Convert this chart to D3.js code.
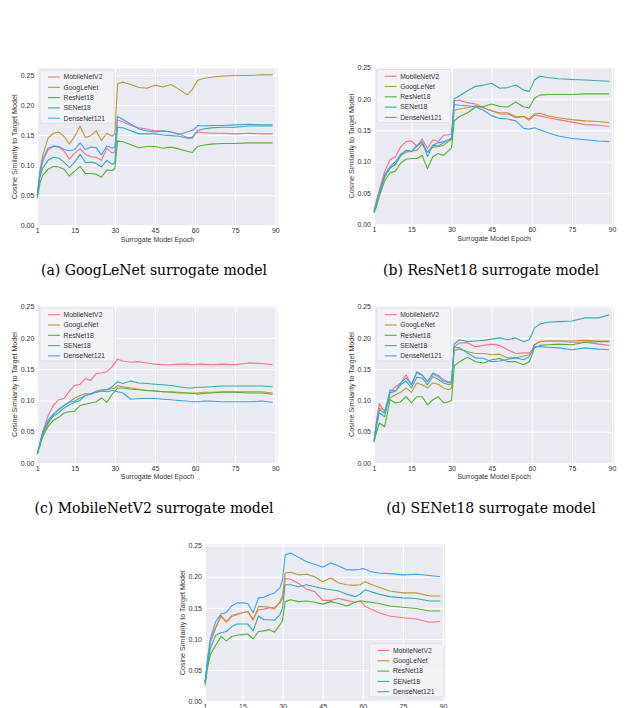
<!DOCTYPE html>
<html>
<head>
<meta charset="utf-8">
<script src="https://cdn.jsdelivr.net/npm/d3@7"></script>
<style>
    body { margin: 0; background: #fff; }
    svg { display: block; }
</style>
</head>
<body>
<svg id="fig" width="630" height="708"></svg>
<script>
const epochs = [1, 2, 3, 5, 7, 9, 11, 13, 15, 17, 19, 21, 23, 25, 27, 29, 30, 31, 33, 36, 39, 42, 45, 48, 51, 54, 57, 59, 60, 61, 63, 66, 70, 75, 80, 85, 89];
const models = ["MobileNetV2", "GoogLeNet", "ResNet18", "SENet18", "DenseNet121"];
const colors = ["#f77189", "#bb9832", "#50b131", "#36ada4", "#3ba3ec"];
const xTicks = [1, 15, 30, 45, 60, 75, 90];
const yTicks = [0, 0.05, 0.10, 0.15, 0.20, 0.25];

// (a) GoogLeNet surrogate
const valuesGoogLeNet = [
    [0.05,0.085,0.105, 0.125,0.131,0.13, 0.123,0.11,0.12, 0.127,0.118,0.114, 0.113,0.108,0.128, 0.12,0.122,0.175, 0.172,0.166,0.162, 0.16,0.157,0.157, 0.155,0.152,0.146, 0.146,0.153,0.155, 0.154,0.153,0.153, 0.152,0.153,0.152, 0.152],
    [0.048,0.09,0.115, 0.145,0.153,0.155, 0.148,0.135,0.148, 0.165,0.146,0.149, 0.157,0.141,0.153, 0.148,0.152,0.235, 0.238,0.234,0.229, 0.228,0.233,0.230, 0.234,0.226,0.217, 0.226,0.234,0.241, 0.244,0.246,0.248, 0.249,0.249,0.250, 0.250],
    [0.045,0.07,0.083, 0.093,0.098,0.097, 0.093,0.082,0.09, 0.098,0.086,0.086, 0.085,0.08,0.092, 0.091,0.094,0.14, 0.139,0.134,0.129, 0.131,0.131,0.128, 0.13,0.127,0.123, 0.121,0.127,0.131, 0.133,0.135,0.136, 0.136,0.137,0.137, 0.137],
    [0.05,0.08,0.095, 0.108,0.113,0.112, 0.105,0.096,0.105, 0.118,0.104,0.105, 0.103,0.097,0.108, 0.101,0.104,0.163, 0.162,0.157,0.152, 0.152,0.152,0.150, 0.149,0.148,0.145, 0.145,0.152,0.158, 0.160,0.162,0.163, 0.163,0.165,0.165, 0.165],
    [0.05,0.09,0.11, 0.128,0.132,0.131, 0.126,0.124,0.126, 0.137,0.126,0.13, 0.129,0.117,0.132, 0.128,0.13,0.181, 0.176,0.168,0.16, 0.157,0.155,0.157, 0.155,0.151,0.155, 0.158,0.161,0.166, 0.165,0.166,0.166, 0.167,0.168,0.167, 0.167]
];

// (b) ResNet18 surrogate
const valuesResNet18 = [
    [0.022,0.04,0.055, 0.085,0.103,0.108, 0.124,0.132,0.133, 0.125,0.136,0.121, 0.135,0.132,0.142, 0.143,0.145,0.197, 0.198,0.194,0.192, 0.186,0.181,0.176, 0.176,0.170,0.172, 0.166,0.170,0.174, 0.173,0.170,0.167, 0.163,0.159,0.158, 0.156],
    [0.02,0.035,0.05, 0.075,0.09,0.095, 0.11,0.115,0.117, 0.118,0.128,0.115, 0.123,0.124,0.126, 0.133,0.135,0.182, 0.184,0.186,0.189, 0.186,0.181,0.178, 0.178,0.172,0.172, 0.168,0.172,0.176, 0.177,0.173,0.17, 0.167,0.165,0.164, 0.162],
    [0.018,0.03,0.045, 0.07,0.082,0.085, 0.098,0.104,0.105, 0.105,0.11,0.089, 0.108,0.113,0.11, 0.118,0.122,0.165, 0.172,0.178,0.187, 0.188,0.192,0.188, 0.187,0.195,0.187, 0.186,0.193,0.201, 0.206,0.207,0.207, 0.207,0.208,0.208, 0.208],
    [0.02,0.035,0.05, 0.078,0.09,0.096, 0.11,0.118,0.116, 0.125,0.132,0.108, 0.126,0.125,0.13, 0.135,0.137,0.2, 0.205,0.213,0.22, 0.222,0.225,0.217, 0.218,0.222,0.214, 0.212,0.22,0.23, 0.236,0.234,0.232, 0.231,0.23,0.229, 0.228],
    [0.02,0.035,0.05, 0.08,0.092,0.1, 0.112,0.118,0.116, 0.125,0.131,0.115, 0.126,0.13,0.132, 0.135,0.138,0.191, 0.19,0.189,0.187, 0.182,0.173,0.169, 0.168,0.165,0.153, 0.152,0.153,0.154, 0.151,0.146,0.141, 0.137,0.135,0.133, 0.132]
];

// (c) MobileNetV2 surrogate
const valuesMobileNetV2 = [
    [0.015,0.03,0.05, 0.075,0.092,0.101, 0.103,0.115,0.124, 0.126,0.135,0.132, 0.143,0.144,0.146, 0.154,0.16,0.166, 0.163,0.161,0.162, 0.16,0.158,0.157, 0.157,0.158,0.158, 0.157,0.157,0.158, 0.158,0.157,0.158, 0.157,0.16,0.159, 0.157],
    [0.015,0.03,0.045, 0.062,0.077,0.086, 0.092,0.098,0.104, 0.108,0.111,0.11, 0.115,0.117,0.117, 0.119,0.12,0.124, 0.122,0.12,0.118, 0.116,0.115,0.114, 0.114,0.113,0.112, 0.112,0.112,0.112, 0.113,0.113,0.114, 0.114,0.114,0.114, 0.112],
    [0.014,0.028,0.042, 0.058,0.068,0.073, 0.08,0.082,0.083, 0.092,0.094,0.096, 0.098,0.104,0.097, 0.11,0.114,0.12, 0.12,0.118,0.117, 0.116,0.115,0.114, 0.113,0.112,0.112, 0.111,0.111,0.11, 0.111,0.112,0.113, 0.113,0.112,0.112, 0.11],
    [0.015,0.03,0.047, 0.065,0.075,0.08, 0.088,0.093,0.097, 0.1,0.108,0.11, 0.113,0.115,0.117, 0.122,0.126,0.13, 0.127,0.131,0.128, 0.127,0.126,0.125, 0.124,0.122,0.12, 0.12,0.121,0.121, 0.121,0.122,0.123, 0.123,0.123,0.123, 0.122],
    [0.015,0.032,0.048, 0.068,0.078,0.085, 0.092,0.097,0.099, 0.104,0.108,0.111, 0.113,0.115,0.114, 0.116,0.115,0.114, 0.112,0.102,0.103, 0.103,0.103,0.102, 0.101,0.1,0.099, 0.098,0.098,0.098, 0.099,0.099,0.098, 0.098,0.098,0.099, 0.097]
];

// (d) SENet18 surrogate
const valuesSENet18 = [
    [0.035,0.07,0.095, 0.082,0.112,0.122, 0.128,0.141,0.125, 0.144,0.14,0.13, 0.142,0.138,0.131, 0.128,0.13,0.186, 0.192,0.192,0.186, 0.188,0.19,0.188, 0.181,0.175,0.176, 0.176,0.18,0.189, 0.194,0.195,0.195, 0.193,0.193,0.19, 0.188],
    [0.035,0.065,0.088, 0.084,0.104,0.109, 0.113,0.12,0.113, 0.128,0.125,0.12, 0.128,0.126,0.12, 0.117,0.12,0.18, 0.182,0.178,0.175, 0.175,0.173,0.174, 0.168,0.168,0.171, 0.173,0.178,0.189, 0.194,0.195,0.195, 0.195,0.196,0.195, 0.195],
    [0.033,0.05,0.064, 0.058,0.101,0.096, 0.098,0.106,0.096, 0.106,0.106,0.093, 0.101,0.106,0.096, 0.098,0.1,0.155, 0.162,0.169,0.162, 0.16,0.165,0.167, 0.162,0.162,0.157, 0.162,0.172,0.184, 0.188,0.189,0.19, 0.189,0.193,0.194, 0.194],
    [0.035,0.06,0.08, 0.074,0.112,0.115, 0.125,0.131,0.12, 0.137,0.136,0.125, 0.138,0.134,0.128, 0.125,0.127,0.19, 0.197,0.194,0.195, 0.196,0.198,0.2, 0.197,0.2,0.194, 0.197,0.205,0.216, 0.222,0.225,0.226, 0.227,0.232,0.232, 0.237],
    [0.035,0.065,0.085, 0.08,0.117,0.115, 0.128,0.136,0.125, 0.146,0.141,0.13, 0.144,0.14,0.133, 0.129,0.131,0.185, 0.184,0.176,0.168, 0.167,0.162,0.163, 0.166,0.168,0.165, 0.17,0.177,0.186, 0.186,0.185,0.184, 0.181,0.184,0.182, 0.181]
];

// (e) DenseNet121 surrogate
const valuesDenseNet121 = [
    [0.03,0.065,0.095, 0.118,0.138,0.128, 0.136,0.139,0.142, 0.144,0.132,0.147, 0.148,0.15,0.151, 0.158,0.165,0.197, 0.196,0.189,0.18, 0.176,0.162,0.162, 0.165,0.162,0.159, 0.161,0.157,0.152, 0.148,0.142,0.137, 0.134,0.132,0.127, 0.128],
    [0.03,0.065,0.095, 0.118,0.136,0.127, 0.138,0.14,0.142, 0.144,0.13,0.152, 0.152,0.151,0.148, 0.16,0.17,0.206, 0.207,0.203,0.204, 0.2,0.192,0.198, 0.19,0.187,0.186, 0.187,0.19,0.192, 0.188,0.183,0.177, 0.174,0.174,0.169, 0.169],
    [0.025,0.055,0.075, 0.09,0.104,0.097, 0.104,0.106,0.107, 0.108,0.1,0.112, 0.113,0.115,0.111, 0.123,0.13,0.16, 0.163,0.16,0.161, 0.159,0.156,0.16, 0.157,0.153,0.159, 0.161,0.161,0.16, 0.159,0.157,0.153, 0.151,0.149,0.145, 0.145],
    [0.03,0.06,0.085, 0.106,0.11,0.112, 0.12,0.124,0.124, 0.124,0.113,0.137, 0.131,0.131,0.13, 0.139,0.15,0.187, 0.187,0.184,0.187, 0.184,0.181,0.179, 0.177,0.172,0.168, 0.172,0.176,0.179, 0.176,0.172,0.168, 0.166,0.165,0.161, 0.161],
    [0.03,0.07,0.1, 0.128,0.14,0.143, 0.153,0.158,0.158, 0.157,0.142,0.166, 0.167,0.171,0.174, 0.182,0.195,0.235, 0.238,0.231,0.224, 0.22,0.215,0.222, 0.217,0.211,0.211, 0.212,0.213,0.212, 0.208,0.206,0.205, 0.203,0.204,0.202, 0.2]
];

const panels = [
    {values: valuesGoogLeNet,   caption: "(a) GoogLeNet surrogate model",   left: 37.3, top: 68.3,  yMax: 0.261, legend: "upper", capX: 154, capY: 274.5},
    {values: valuesResNet18,    caption: "(b) ResNet18 surrogate model",    left: 374,  top: 67.5,  yMax: 0.25,  legend: "upper", capX: 491, capY: 274.5},
    {values: valuesMobileNetV2, caption: "(c) MobileNetV2 surrogate model", left: 37.3, top: 306,   yMax: 0.251, legend: "upper", capX: 154, capY: 512.5},
    {values: valuesSENet18,     caption: "(d) SENet18 surrogate model",     left: 374,  top: 306,   yMax: 0.251, legend: "upper", capX: 491, capY: 512.5},
    {values: valuesDenseNet121, caption: null,                              left: 205,  top: 544.3, yMax: 0.252, legend: "lower", capX: 0,   capY: 0}
];

const W = 240.4, H = 157;
const svg = d3.select("#fig");

panels.forEach(drawPanel);

function drawPanel(p) {
    const g = svg.append("g").attr("transform", `translate(${p.left},${p.top})`);

    const x = d3.scaleLinear().domain([1, 90.9]).range([0, W]);
    const y = d3.scaleLinear().domain([0, p.yMax]).range([H, 0]);

    g.append("rect")
        .attr("width", W)
        .attr("height", H)
        .attr("fill", "#eaeaf2");

    // grid
    g.append("g")
        .attr("transform", `translate(0,${H})`)
        .call(d3.axisBottom(x).tickValues(xTicks).tickSize(-H).tickFormat(""))
        .call(s => s.select(".domain").remove())
        .selectAll("line").attr("stroke", "#fff").attr("stroke-width", 1);
    g.append("g")
        .call(d3.axisLeft(y).tickValues(yTicks).tickSize(-W).tickFormat(""))
        .call(s => s.select(".domain").remove())
        .selectAll("line").attr("stroke", "#fff").attr("stroke-width", 1);

    // tick labels
    const xa = g.append("g")
        .attr("transform", `translate(0,${H})`)
        .call(d3.axisBottom(x).tickValues(xTicks).tickSize(0).tickPadding(3));
    const ya = g.append("g")
        .call(d3.axisLeft(y).tickValues(yTicks).tickSize(0).tickPadding(3).tickFormat(d3.format(".2f")));
    [xa, ya].forEach(a => {
        a.select(".domain").remove();
        a.selectAll("text")
            .style("font-family", "Liberation Sans, Arial, sans-serif")
            .style("font-size", "7px")
            .attr("fill", "#333");
    });

    g.append("text")
        .attr("x", W / 2)
        .attr("y", H + 16.3)
        .attr("text-anchor", "middle")
        .style("font-family", "Liberation Sans, Arial, sans-serif")
        .style("font-size", "7px")
        .attr("fill", "#333")
        .text("Surrogate Model Epoch");

    g.append("text")
        .attr("transform", `translate(-20,${H / 2}) rotate(-90)`)
        .attr("text-anchor", "middle")
        .style("font-family", "Liberation Sans, Arial, sans-serif")
        .style("font-size", "7.2px")
        .attr("fill", "#333")
        .text("Cosine Similarity to Target Model");

    // lines
    const line = d3.line()
        .x((d, i) => x(epochs[i]))
        .y(d => y(d));

    p.values.forEach((vals, k) => {
        g.append("path")
            .datum(vals)
            .attr("fill", "none")
            .attr("stroke", colors[k])
            .attr("stroke-width", 1.1)
            .attr("stroke-linejoin", "round")
            .attr("d", line);
    });

    // legend
    const lw = 74, lh = 53;
    const lx = p.legend === "upper" ? 2.7 : W - 2 - lw;
    const ly = p.legend === "upper" ? 2 : H - 4.5 - lh;
    const leg = g.append("g").attr("transform", `translate(${lx},${ly})`);
    leg.append("rect")
        .attr("width", lw)
        .attr("height", lh)
        .attr("rx", 2)
        .attr("fill", "#f5f5f8")
        .attr("fill-opacity", 0.85)
        .attr("stroke", "#d6d6dc")
        .attr("stroke-width", 0.6);
    models.forEach((m, k) => {
        const ry = 6.7 + k * 10.3;
        leg.append("line")
            .attr("x1", 8).attr("x2", 20)
            .attr("y1", ry).attr("y2", ry)
            .attr("stroke", colors[k])
            .attr("stroke-width", 1.1);
        leg.append("text")
            .attr("x", 23.5)
            .attr("y", ry)
            .attr("dy", "0.35em")
            .style("font-family", "Liberation Sans, Arial, sans-serif")
            .style("font-size", "6.8px")
            .attr("fill", "#333")
            .text(m);
    });

    if (p.caption) {
        svg.append("text")
            .attr("x", p.capX)
            .attr("y", p.capY)
            .attr("text-anchor", "middle")
            .style("font-family", "DejaVu Serif, serif")
            .style("font-size", "14px")
            .attr("fill", "#000")
            .text(p.caption);
    }
}
</script>
</body>
</html>
